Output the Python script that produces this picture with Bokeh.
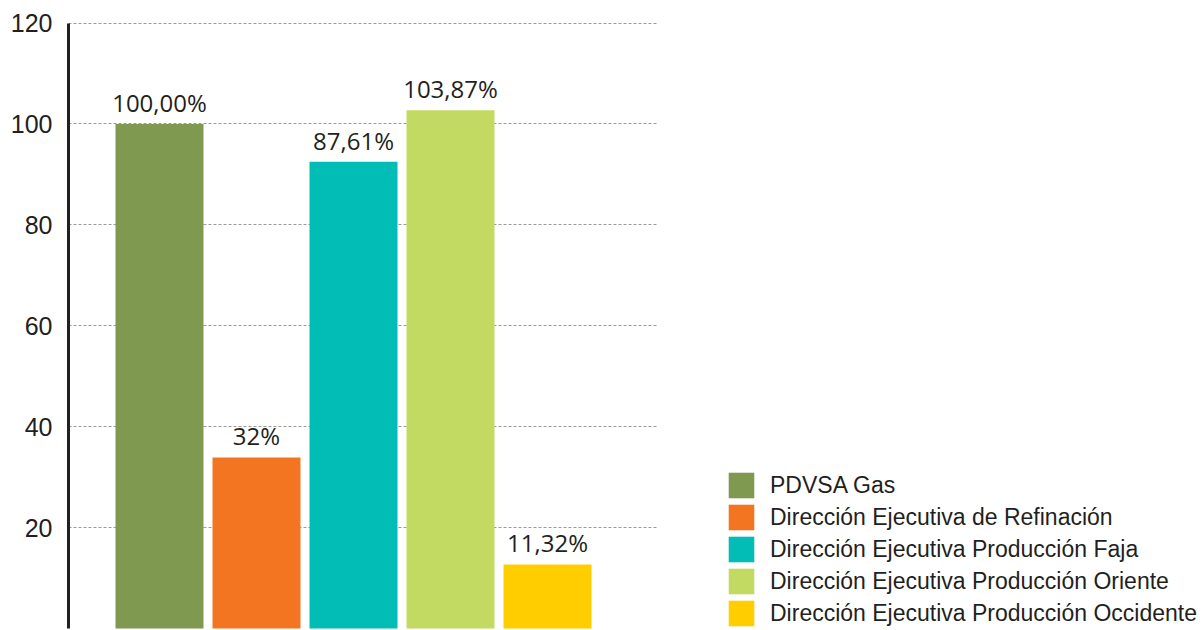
from bokeh.plotting import figure
from bokeh.models import ColumnDataSource, Range1d, FixedTicker, Legend, LegendItem
from bokeh.core.properties import value
from bokeh.embed import file_html
from bokeh.resources import INLINE

# ---- data ----
categories = ["PDVSA Gas",
              "Dirección Ejecutiva de Refinación",
              "Dirección Ejecutiva Producción Faja",
              "Dirección Ejecutiva Producción Oriente",
              "Dirección Ejecutiva Producción Occidente"]
values = [100.0, 33.9, 92.5, 102.7, 12.7]
labels = ["100,00%", "32%", "87,61%", "103,87%", "11,32%"]
colors = ["#7f9950", "#f47521", "#02bcb6", "#c3da62", "#ffcd00"]
y_ticks = [20, 40, 60, 80, 100, 120]

positions = list(range(1, len(categories) + 1))
src = ColumnDataSource(dict(x=positions, top=values, label=labels,
                            color=colors, name=categories))

TXT = "#231f20"
X0, XG = 0.0619, 6.144   # plot area left edge / gridline end (in bar slots)

p = figure(width=1204, height=630, output_backend="svg", toolbar_location=None,
           x_range=Range1d(X0, X0 + 1136 / 97), y_range=Range1d(-0.4, 124.46),
           x_axis_location=None, min_border_left=68, min_border_right=0,
           min_border_top=0, min_border_bottom=0)
p.outline_line_color = None
p.background_fill_color = "white"
p.border_fill_color = "white"

r = p.vbar(x="x", top="top", width=0.907, bottom=0, fill_color="color",
           line_color=None, source=src)

p.text(x="x", y="top", text="label", source=src, text_align="center",
       text_baseline="bottom", y_offset=-5,
       text_font=value("Open Sans"), text_font_size="24px", text_color=TXT)

ax = p.yaxis[0]
ax.ticker = FixedTicker(ticks=y_ticks)
ax.bounds = (0, 120)
ax.axis_line_color = TXT
ax.axis_line_width = 3
ax.major_tick_line_color = None
ax.minor_tick_line_color = None
ax.major_tick_out = 0
ax.major_tick_in = 0
ax.minor_tick_out = 0
ax.minor_tick_in = 0
ax.major_label_standoff = 16
ax.major_label_text_font = "Liberation Sans"
ax.major_label_text_font_size = "25px"
ax.major_label_text_color = TXT

p.xgrid.visible = False
p.ygrid.ticker = FixedTicker(ticks=y_ticks)
p.ygrid.cross_bounds = (X0, XG)
p.ygrid.grid_line_color = "#9a9a9a"
p.ygrid.grid_line_dash = "3 2"
p.ygrid.grid_line_width = 1

items = [LegendItem(label=categories[i], renderers=[r], index=i)
         for i in range(len(categories))]
legend = Legend(items=items, location=(657, 1), orientation="vertical",
                padding=0, margin=0, spacing=-2,
                glyph_width=32, glyph_height=32, label_height=32,
                label_standoff=13,
                label_text_font="Liberation Sans", label_text_font_size="23px",
                label_text_color=TXT, border_line_color=None,
                background_fill_alpha=0)
p.add_layout(legend, "center")

open("out.html", "w").write(file_html(p, INLINE))
